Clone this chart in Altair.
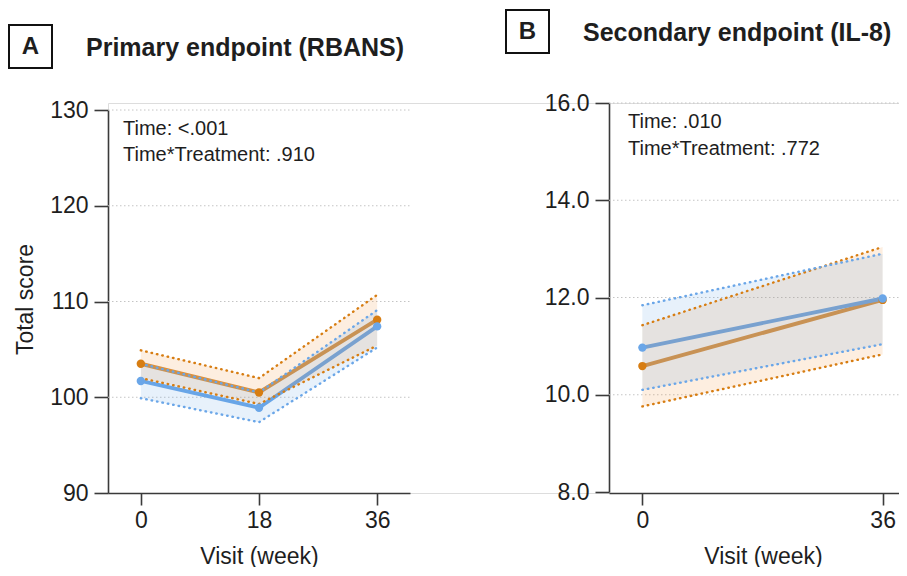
import altair as alt
import pandas as pd

# ---------------- data ----------------
weeks_a = [0, 18, 36]
a_arm1_mean = [103.5, 100.5, 108.1]   # orange
a_arm1_lo = [102.0, 99.3, 105.4]
a_arm1_hi = [104.9, 102.0, 110.7]
a_arm2_mean = [101.7, 98.9, 107.4]    # blue
a_arm2_lo = [99.9, 97.4, 105.2]
a_arm2_hi = [103.5, 100.5, 109.1]

weeks_b = [0, 36]
b_arm1_mean = [10.59, 11.95]          # orange
b_arm1_lo = [9.76, 10.83]
b_arm1_hi = [11.43, 13.04]
b_arm2_mean = [10.97, 11.98]          # blue
b_arm2_lo = [10.10, 11.04]
b_arm2_hi = [11.84, 12.90]

a_ticks_y = [90, 100, 110, 120, 130]
a_grid_y = [100, 110, 120, 130]
a_ticks_x = [0, 18, 36]
b_ticks_y = [8, 10, 12, 14, 16]
b_grid_y = [10, 12, 14, 16]
b_ticks_x = [0, 36]

# ---------------- styling ----------------
FONT = "Liberation Sans"
TXT = "#1e1e1e"
AX = "#3a3a3a"
ORANGE_LINE = "#d8913f"
ORANGE_PT = "#d77d12"
ORANGE_FILL = "#ef8c30"
BLUE_LINE = "#6aa6e8"
BLUE_PT = "#6aa6e8"
BLUE_FILL = "#5f9ee2"
FILL_OP = 0.15


def frame(weeks, mean, lo, hi):
    return pd.DataFrame({"week": weeks, "mean": mean, "lo": lo, "hi": hi})


def y_axis(vals, title, fmt, offset, title_y):
    return alt.Axis(values=vals, title=title, format=fmt, orient="left", offset=offset,
                    grid=False, domainColor=AX, domainWidth=1.6, tickColor=AX, tickWidth=1.6,
                    tickSize=14, labelFont=FONT, labelFontSize=23, labelColor=TXT, labelPadding=6,
                    titleFont=FONT, titleFontSize=23, titleFontWeight="normal", titleColor=TXT,
                    titleAngle=270, titleX=-76 - offset, titleY=title_y, titleAlign="center",
                    titleBaseline="alphabetic")


def x_axis(vals, title, title_x):
    return alt.Axis(values=vals, title=title, orient="bottom", grid=False, domainColor=AX,
                    domainWidth=1.6, tickColor=AX, tickWidth=1.6, tickSize=12,
                    labelFont=FONT, labelFontSize=23, labelColor=TXT, labelPadding=4,
                    titleFont=FONT, titleFontSize=23, titleFontWeight="normal", titleColor=TXT,
                    titleX=title_x, titleY=70, titleAlign="center", titleBaseline="alphabetic")


def panel(arm1, arm2, xscale, yscale, xaxis, yaxis, grid_vals, grid_x):
    X = alt.X("week:Q", scale=xscale, axis=xaxis)

    def Y(f):
        return alt.Y(f + ":Q", scale=yscale, axis=yaxis)

    layers = [
        alt.Chart(pd.DataFrame({"g": grid_vals})).mark_rule(
            color="#c4c4c4", strokeWidth=1, strokeDash=[1.5, 2.5]
        ).encode(y=Y("g"), x=alt.value(grid_x[0]), x2=alt.value(grid_x[1]))
    ]
    arms = [(arm1, ORANGE_LINE, ORANGE_PT, ORANGE_FILL), (arm2, BLUE_LINE, BLUE_PT, BLUE_FILL)]
    for df, lc, pc, fc in arms:
        layers.append(alt.Chart(df).mark_line(color=lc, strokeWidth=3.9).encode(x=X, y=Y("mean")))
    for df, lc, pc, fc in arms:
        layers.append(alt.Chart(df).mark_area(color=fc, opacity=FILL_OP).encode(
            x=X, y=Y("lo"), y2=alt.Y2("hi")))
    for df, lc, pc, fc in arms:
        for f in ("lo", "hi"):
            layers.append(alt.Chart(df).mark_line(
                color=pc, strokeWidth=2.4, strokeDash=[0.5, 5], strokeCap="round"
            ).encode(x=X, y=Y(f)))
    for df, lc, pc, fc in arms:
        layers.append(alt.Chart(df).mark_point(
            filled=True, color=pc, size=70, opacity=1).encode(x=X, y=Y("mean")))
    return alt.layer(*layers)


# Panel A: plot area occupies x 0..302, y 7..390 in the shared group
xs_a = alt.Scale(domain=[-5, 41], range=[0, 302], nice=False, zero=False)
ys_a = alt.Scale(domain=[90, 130], range=[390, 7], nice=False, zero=False)
panel_a = panel(
    frame(weeks_a, a_arm1_mean, a_arm1_lo, a_arm1_hi),
    frame(weeks_a, a_arm2_mean, a_arm2_lo, a_arm2_hi),
    xs_a, ys_a,
    x_axis(a_ticks_x, "Visit (week)", 151),
    y_axis(a_ticks_y, "Total score", "d", 0, 196),
    a_grid_y, (0, 302),
)

# Panel B: plot area occupies x 501..808 (cropped at the right edge), y 0..389
xs_b = alt.Scale(domain=[-5, 41], range=[501, 808], nice=False, zero=False)
ys_b = alt.Scale(domain=[8, 16], range=[389, 0], nice=False, zero=False)
panel_b = panel(
    frame(weeks_b, b_arm1_mean, b_arm1_lo, b_arm1_hi),
    frame(weeks_b, b_arm2_mean, b_arm2_lo, b_arm2_hi),
    xs_b, ys_b,
    x_axis(b_ticks_x, "Visit (week)", 655),
    y_axis(b_ticks_y, "pg/ml", ".1f", -501, 194),
    b_grid_y, (501, 808),
)

one = pd.DataFrame({"k": [1]})


def label(text, x, y, size, weight="normal", align="left"):
    return alt.Chart(one).mark_text(
        font=FONT, fontSize=size, fontWeight=weight, color=TXT, align=align, baseline="middle"
    ).encode(text=alt.value(text), x=alt.value(x), y=alt.value(y))


def box(x0, x1, y0, y1):
    return alt.Chart(one).mark_rect(
        fill="transparent", stroke="#111111", strokeWidth=2
    ).encode(x=alt.value(x0), x2=alt.value(x1), y=alt.value(y0), y2=alt.value(y1))


decor = [
    box(-99, -56, -78, -35),
    label("A", -77.5, -56, 24, "bold", "center"),
    label("Primary endpoint (RBANS)", -22, -55, 25, "bold"),
    label("Time: <.001", 15, 26, 20),
    label("Time*Treatment: .910", 15, 52, 20),
    box(398, 441, -93, -50),
    label("B", 419.5, -71, 24, "bold", "center"),
    label("Secondary endpoint (IL-8)", 475, -70, 25, "bold"),
    label("Time: .010", 520, 19, 20),
    label("Time*Treatment: .772", 520, 46, 20),
]

chart = alt.layer(panel_a, panel_b, *decor).resolve_scale(
    x="independent", y="independent"
).properties(
    width=791, height=390,
    padding={"left": 100, "top": 95, "right": 0, "bottom": 74},
    autosize=alt.AutoSizeParams(type="none"),
).configure_view(stroke=None).configure(background="white")

chart.save("out.html", embed_options={"renderer": "svg", "actions": False})
